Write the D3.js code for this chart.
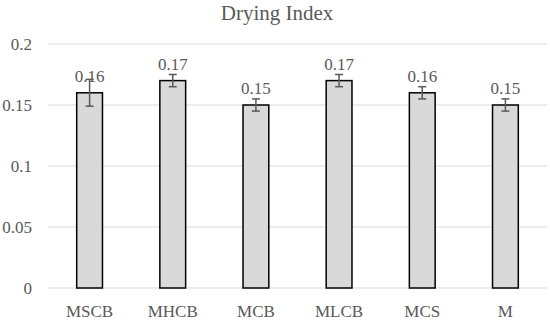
<!DOCTYPE html>
<html lang="en">

<head>
    <meta charset="utf-8">
    <title>Drying Index</title>
    <script type="text/javascript" src="https://d3js.org/d3.v7.min.js"></script>
    <style type="text/css">
        body { margin: 0; background: #fff; }
    </style>
</head>

<body>
    <script type="text/javascript">
        //Chart data
        const samples = ['MSCB', 'MHCB', 'MCB', 'MLCB', 'MCS', 'M'];
        const dryingIndex = [0.16, 0.17, 0.15, 0.17, 0.16, 0.15];
        const errors = [0.011, 0.005, 0.005, 0.005, 0.005, 0.005];
        const yTicks = [0, 0.05, 0.1, 0.15, 0.2];

        const data = samples.map((s, i) => ({ name: s, value: dryingIndex[i], err: errors[i] }));

        const serif = '"Liberation Serif", "DejaVu Serif", serif';
        const textColor = '#595959';

        //Canvas attributes
        const canvasWidth = 550;
        const canvasHeight = 321;
        const plotLeft = 48, plotRight = 547, plotTop = 44, plotBottom = 288;

        //Scales
        const xScale = d3.scaleBand()
            .domain(samples)
            .range([plotLeft, plotRight])
            .paddingInner(0.69)
            .paddingOuter(0.345);

        const yScale = d3.scaleLinear()
            .domain([0, 0.2])
            .range([plotBottom, plotTop]);

        const svg = d3.select('body')
            .append('svg')
            .attr('width', canvasWidth)
            .attr('height', canvasHeight);

        //Gridlines
        svg.append('g')
            .selectAll('line')
            .data(yTicks)
            .enter()
            .append('line')
            .attr('x1', plotLeft)
            .attr('x2', plotRight)
            .attr('y1', d => yScale(d))
            .attr('y2', d => yScale(d))
            .attr('stroke', '#d9d9d9')
            .attr('stroke-width', 1);

        //Y axis labels (no axis line)
        const leftAxis = d3.axisLeft(yScale)
            .tickValues(yTicks)
            .tickSize(0)
            .tickPadding(0)
            .tickFormat(d => String(+d.toFixed(2)));

        const yAxisG = svg.append('g')
            .attr('transform', 'translate(32,0)')
            .call(leftAxis)
            .attr('font-family', serif)
            .attr('font-size', 17);
        yAxisG.select('.domain').remove();
        yAxisG.selectAll('text')
            .attr('fill', textColor)
            .attr('dy', '0.35em');

        //X axis labels
        const bottomAxis = d3.axisBottom(xScale)
            .tickSize(0)
            .tickPadding(0);

        const xAxisG = svg.append('g')
            .attr('transform', 'translate(0,' + plotBottom + ')')
            .call(bottomAxis)
            .attr('font-family', serif)
            .attr('font-size', 17);
        xAxisG.select('.domain').remove();
        xAxisG.selectAll('text')
            .attr('fill', textColor)
            .attr('y', 29)
            .attr('dy', 0);

        //Bars
        svg.append('g')
            .selectAll('rect')
            .data(data)
            .enter()
            .append('rect')
            .attr('x', d => xScale(d.name))
            .attr('width', xScale.bandwidth())
            .attr('y', d => yScale(d.value))
            .attr('height', d => yScale(0) - yScale(d.value))
            .attr('fill', '#d9d9d9')
            .attr('stroke', '#000')
            .attr('stroke-width', 1.5);

        //Error bars
        const errG = svg.append('g')
            .attr('stroke', '#595959')
            .attr('stroke-width', 1.5);
        const cx = d => xScale(d.name) + xScale.bandwidth() / 2;

        errG.selectAll('.stem')
            .data(data)
            .enter()
            .append('line')
            .attr('x1', cx)
            .attr('x2', cx)
            .attr('y1', d => yScale(d.value + d.err))
            .attr('y2', d => yScale(d.value - d.err));

        [1, -1].forEach(sign => {
            errG.selectAll('.cap' + (sign > 0 ? 'Up' : 'Down'))
                .data(data)
                .enter()
                .append('line')
                .attr('x1', d => cx(d) - 4)
                .attr('x2', d => cx(d) + 4)
                .attr('y1', d => yScale(d.value + sign * d.err))
                .attr('y2', d => yScale(d.value + sign * d.err));
        });

        //Value labels
        svg.append('g')
            .selectAll('text')
            .data(data)
            .enter()
            .append('text')
            .attr('x', cx)
            .attr('y', d => yScale(d.value) - 11)
            .attr('text-anchor', 'middle')
            .attr('font-family', serif)
            .attr('font-size', 17)
            .attr('fill', textColor)
            .text(d => d.value.toFixed(2));

        //Title
        svg.append('text')
            .attr('x', 277)
            .attr('y', 20)
            .attr('text-anchor', 'middle')
            .attr('font-family', serif)
            .attr('font-size', 21)
            .attr('fill', textColor)
            .text('Drying Index');
    </script>
</body>

</html>
